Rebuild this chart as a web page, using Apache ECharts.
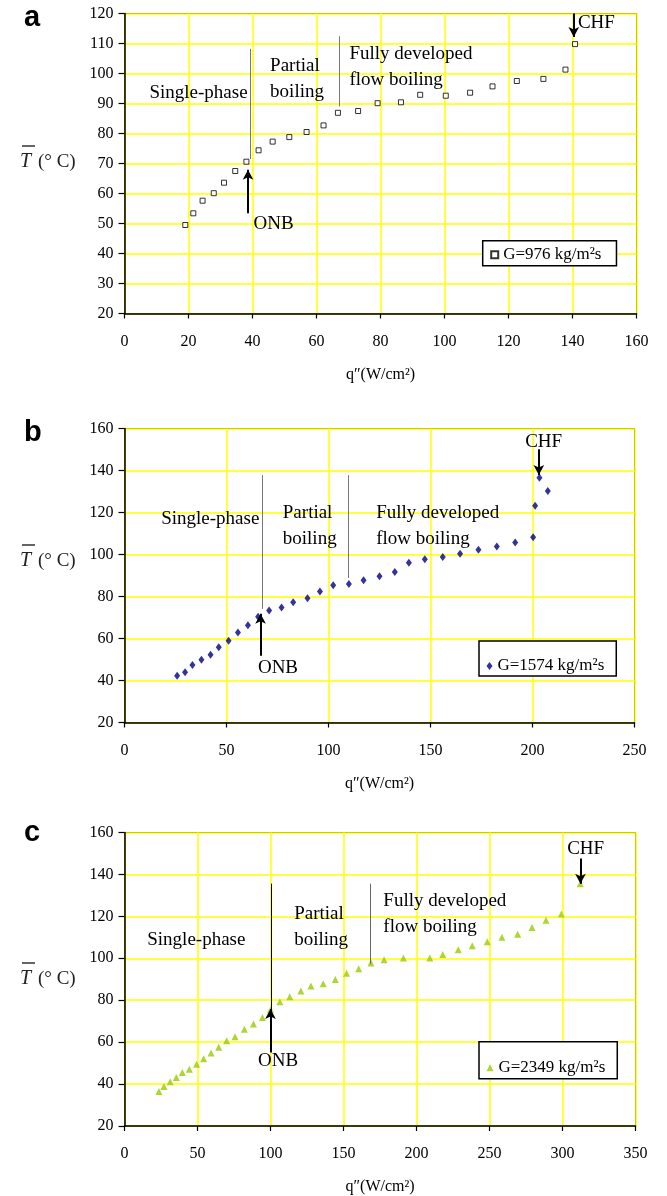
<!DOCTYPE html>
<html>
<head>
<meta charset="utf-8">
<script src="https://cdn.jsdelivr.net/npm/echarts@6/dist/echarts.min.js"></script>
<style>html,body{margin:0;padding:0;background:#fff;}#main{width:667px;height:1196px;}</style>
</head>
<body>
<div id="main"></div>
<script>
// ---- Data ----
const xA = [19.0,21.5,24.4,27.9,31.1,34.6,38.1,41.9,46.3,51.5,56.9,62.2,66.7,73.0,79.1,86.4,92.4,100.4,108.0,115.0,122.6,130.9,137.8,140.8];
const yA = [49.5,53.4,57.6,60.1,63.6,67.5,70.6,74.4,77.3,78.8,80.5,82.7,86.9,87.5,90.1,90.4,92.9,92.6,93.6,95.7,97.5,98.2,101.3,109.8];
const xB = [25.8,29.7,33.3,37.7,42.2,46.2,51.0,55.6,60.5,65.5,70.9,77.0,82.7,89.7,95.8,102.3,110.0,117.2,125.0,132.5,139.4,147.2,156.0,164.5,173.5,182.5,191.5,200.3,201.3,203.4,207.5];
const yB = [42.3,43.9,47.4,49.9,52.3,55.8,58.9,62.8,66.3,70.3,73.3,74.8,77.3,79.2,82.4,85.3,85.9,87.7,89.7,91.7,96.1,97.7,98.8,100.3,102.3,103.8,105.7,108.2,123.2,136.6,130.2];
const xC = [23.6,27.0,31.3,35.5,39.6,44.4,49.4,54.2,59.3,64.5,70.0,75.7,82.1,88.3,94.5,100.0,106.4,113.2,120.8,127.7,136.1,144.4,152.1,160.4,168.8,177.8,191.0,209.1,218.0,228.6,238.2,248.5,258.5,269.3,279.1,288.7,299.2,312.1];
const yC = [36.4,38.8,41.1,43.1,45.5,47.1,49.5,52.1,54.8,57.6,60.7,62.6,66.1,68.6,71.7,75.5,79.3,81.7,84.4,86.8,87.8,89.9,92.9,95.0,97.7,99.3,100.1,100.1,101.8,104.1,106.0,107.9,110.0,111.5,114.7,118.1,121.1,135.5];

const seriesNames = ['G=976 kg/m\u00b2s', 'G=1574 kg/m\u00b2s', 'G=2349 kg/m\u00b2s'];
const panelLetters = ['a', 'b', 'c'];
const xAxisName = 'q\u2033(W/cm\u00b2)';

// axis ranges / tick intervals
const xMaxes = [160, 250, 350];
const xIntervals = [20, 50, 50];
const yMins = [20, 20, 20];
const yMaxes = [120, 160, 160];
const yIntervals = [10, 20, 20];

// annotations in data units: dividers [x, yFrom, yTo]; arrows [x, yFrom, yTo]
const divA = [[39.3, 71.5, 108.2], [67.0, 89.0, 112.4]];
const divB = [[67.3, 74.1, 137.8], [109.8, 88.8, 137.8]];
const divC = [[100.2, 74.2, 135.6], [168.6, 97.4, 135.6]];
const onbA = [38.6, 53.4, 67.9];
const onbB = [66.7, 51.8, 71.8];
const onbC = [100.0, 55.1, 75.8];
const chfA = [140.4, 120.0, 112.2];
const chfB = [203.1, 150.1, 137.8];
const chfC = [312.3, 147.6, 135.6];
const textsA = [['Single-phase', 7.8, 93.6], ['Partial\nboiling', 45.5, 98.0], ['Fully developed\nflow boiling', 70.3, 102.2], ['ONB', 40.3, 49.7], ['CHF', 141.7, 116.8]];
const textsB = [['Single-phase', 18.0, 116.9], ['Partial\nboiling', 77.6, 113.5], ['Fully developed\nflow boiling', 123.4, 113.5], ['ONB', 65.4, 46.1], ['CHF', 196.4, 153.8]];
const textsC = [['Single-phase', 15.6, 108.8], ['Partial\nboiling', 116.2, 115.1], ['Fully developed\nflow boiling', 177.3, 121.1], ['ONB', 91.5, 51.0], ['CHF', 303.2, 152.0]];

// ---- Build options ----
const SERIF = "'Liberation Serif','Times New Roman',serif";
const grids = [
  {left: 124.5, top: 13.5, width: 512, height: 300},
  {left: 124.5, top: 428.5, width: 510, height: 294},
  {left: 124.5, top: 832.5, width: 511, height: 294}
];
const xs = [xA, xB, xC], ys = [yA, yB, yC];
const divs = [divA, divB, divC], onbs = [onbA, onbB, onbC], chfs = [chfA, chfB, chfC];
const texts = [textsA, textsB, textsC];
const divColors = [['#777', '#777'], ['#777', '#777'], ['#000', '#666']];
const symbols = [
  {symbol: 'rect', symbolSize: 5, itemStyle: {color: '#fff', borderColor: '#000', borderWidth: 1}},
  {symbol: 'diamond', symbolSize: [6, 8], itemStyle: {color: '#000080'}},
  {symbol: 'triangle', symbolSize: 7, itemStyle: {color: '#99CC00'}}
];
const legendBoxes = [
  {left: 482.7, top: 240.7, padding: [5, 15, 2, 7.5]},
  {left: 479, top: 641, padding: [16, 12, 1, 7.5]},
  {left: 479, top: 1041.7, padding: [17, 12, 2, 7.5]}
];
const nameTops = [53, 53, 53];
const yNameCenters = [162, 561, 979];
const letterY = [18, 433, 833];

const xAxis = [], yAxis = [], series = [], legend = [], graphic = [];
for (let i = 0; i < 3; i++) {
  xAxis.push({
    type: 'value', gridIndex: i, min: 0, max: xMaxes[i], interval: xIntervals[i],
    name: xAxisName, nameLocation: 'middle', nameGap: nameTops[i],
    nameTextStyle: {fontFamily: SERIF, fontSize: 16, color: '#000'},
    axisLine: {show: true, onZero: false, lineStyle: {color: '#000', width: 1.5}},
    axisTick: {show: true, inside: false, length: 5, lineStyle: {color: '#000', width: 1.2}},
    axisLabel: {margin: 20, fontFamily: SERIF, fontSize: 16, color: '#000'},
    splitLine: {show: true, lineStyle: {color: '#FFFF00', width: 1.5}}
  });
  yAxis.push({
    type: 'value', gridIndex: i, min: yMins[i], max: yMaxes[i], interval: yIntervals[i],
    axisLine: {show: true, onZero: false, lineStyle: {color: '#000', width: 1.5}},
    axisTick: {show: true, inside: false, length: 6, lineStyle: {color: '#000', width: 1.2}},
    axisLabel: {margin: 11, fontFamily: SERIF, fontSize: 16, color: '#000'},
    splitLine: {show: true, lineStyle: {color: '#FFFF00', width: 1.5}}
  });
  const data = xs[i].map((x, k) => [x, ys[i][k]]);
  const mlData = [];
  divs[i].forEach((d, k) => {
    const ls = {color: divColors[i][k], width: 1, type: 'solid'};
    mlData.push([{coord: [d[0], d[1]], symbol: 'none', lineStyle: ls}, {coord: [d[0], d[2]], symbol: 'none', lineStyle: ls}]);
  });
  [onbs[i], chfs[i]].forEach(a => {
    const ls = {color: '#000', width: 2, type: 'solid'};
    mlData.push([{coord: [a[0], a[1]], symbol: 'none', lineStyle: ls}, {coord: [a[0], a[2]], symbol: 'arrow', symbolSize: [8, 10], lineStyle: ls}]);
  });
  const mpData = texts[i].map(t => ({
    coord: [t[1], t[2]], symbol: 'circle', symbolSize: 0,
    itemStyle: {color: 'transparent'},
    label: {show: true, formatter: t[0], position: 'right', distance: 0, align: 'left', verticalAlign: 'middle',
      fontFamily: SERIF, fontSize: 19, lineHeight: 26, color: '#000'}
  }));
  series.push(Object.assign({
    type: 'scatter', name: seriesNames[i], xAxisIndex: i, yAxisIndex: i, data: data, z: 3,
    markLine: {silent: true, animation: false, label: {show: false}, symbolSize: [8, 10], data: mlData, emphasis: {disabled: true}},
    markPoint: {silent: true, animation: false, data: mpData, emphasis: {disabled: true}}
  }, symbols[i]));
  legend.push({
    data: [seriesNames[i]], orient: 'horizontal', left: legendBoxes[i].left, top: legendBoxes[i].top,
    padding: legendBoxes[i].padding, borderColor: '#000', borderWidth: 1.5, backgroundColor: '#fff',
    itemWidth: i === 1 ? 6 : 7, itemHeight: i === 1 ? 8 : 7, itemGap: 0, selectedMode: false,
    textStyle: {fontFamily: SERIF, fontSize: 17, lineHeight: 18, color: '#000'}
  });
  graphic.push({type: 'text', x: 24, y: letterY[i], style: {text: panelLetters[i], font: "bold 29px 'Liberation Sans',Arial,sans-serif", fill: '#000', verticalAlign: 'middle'}});
  graphic.push({type: 'text', x: 20, y: yNameCenters[i], style: {text: 'T', font: "italic 20px " + SERIF, fill: '#222', verticalAlign: 'middle'}});
  graphic.push({type: 'text', x: 38, y: yNameCenters[i], style: {text: '(\u00b0 C)', font: "19px " + SERIF, fill: '#222', verticalAlign: 'middle'}});
  graphic.push({type: 'line', shape: {x1: 22, y1: yNameCenters[i] - 16, x2: 35, y2: yNameCenters[i] - 16}, style: {stroke: '#333', lineWidth: 1.5}});
}

const chart = echarts.init(document.getElementById('main'), null, {renderer: 'canvas'});
chart.setOption({
  animation: false,
  backgroundColor: '#fff',
  grid: grids.map(g => Object.assign({show: true, borderColor: '#333300', borderWidth: 1, backgroundColor: 'transparent', containLabel: false}, g)),
  xAxis: xAxis, yAxis: yAxis, series: series, legend: legend, graphic: graphic,
  tooltip: {show: false}
});
</script>
</body>
</html>
